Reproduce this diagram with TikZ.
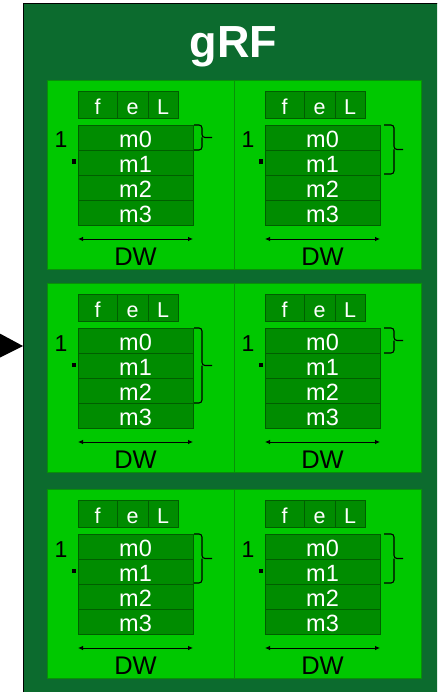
\documentclass[tikz,border=0pt]{standalone}
\usepackage{fontspec}
\setmainfont{Liberation Sans}
\usetikzlibrary{arrows.meta}
\definecolor{outerg}{HTML}{0C6B2E}
\definecolor{panelg}{HTML}{00C800}
\definecolor{cellg}{HTML}{008C00}
\definecolor{celll}{HTML}{005E00}
\definecolor{panell}{HTML}{089008}
\tikzset{
  panelbox/.style={fill=panelg, draw=panell, line width=0.9pt},
  cellbox/.style={fill=cellg, draw=celll, line width=0.8pt},
  celltext/.style={text=white, anchor=base, inner sep=0pt, font=\fontsize{23.5}{25}\selectfont},
  headtext/.style={text=white, anchor=base, inner sep=0pt, font=\fontsize{21.5}{23}\selectfont},
  blacktext/.style={text=black, anchor=base, inner sep=0pt, font=\fontsize{23}{25}\selectfont},
  bracel/.style={draw=black, line width=1.1pt, rounded corners=3pt},
  dwarrow/.style={{Latex[length=5pt,width=4.5pt]}-{Latex[length=5pt,width=4.5pt]}, line width=0.8pt}
}
% #1 x, #2 y, #3 brace bottom (rel), #4 brace x0, #5 brace vertical x, #6 tick x, #7 name
\newcommand\regpanel[7]{%
\begin{scope}[shift={(#1,#2)}]
  \path[panelbox] (0,0) rectangle (187,189);
  \node[cellbox, minimum width=39pt, minimum height=27pt, inner sep=0pt, anchor=north west] (#7f) at (31,11) {};
  \node[cellbox, minimum width=31pt, minimum height=27pt, inner sep=0pt, anchor=north west] (#7e) at (70,11) {};
  \node[cellbox, minimum width=30pt, minimum height=27pt, inner sep=0pt, anchor=north west] (#7L) at (101,11) {};
  \node[headtext] at (50.5,34.5) {f};
  \node[headtext] at (85.5,34.5) {e};
  \node[headtext] at (116,34.5) {L};
  \foreach \i in {0,1,2,3}{
    \node[cellbox, minimum width=115pt, minimum height=25pt, inner sep=0pt, anchor=north west] (#7m\i) at (31,45+25*\i) {};
    \node[celltext] at (88.5,67.8+25*\i) {m\i};
  }
  \node[blacktext] (#7one) at (14,68) {1};
  \fill[black] (24.5,79.5) rectangle (29,84);
  \draw[dwarrow] (31,159) -- (146,159);
  \node[blacktext, font=\fontsize{25.5}{26}\selectfont] (#7dw) at (88.5,185.5) {DW};
  \draw[bracel] (#4,45) -- (#5,45) -- (#5,{(45+#3)/2}) -- (#6,{(45+#3)/2});
  \draw[bracel] (#5,{(45+#3)/2}) -- (#5,#3) -- (#4,#3);
\end{scope}}
\begin{document}
\begin{tikzpicture}[x=1pt,y=-1pt]
  \useasboundingbox (0,0) rectangle (437,692);
  \clip (0,0) rectangle (437,692);
  \path[fill=outerg, draw=black, line width=1.5pt] (23.5,3.5) rectangle (470,720);
  \node[text=white, anchor=base, inner sep=0pt, font=\fontsize{45}{46}\bfseries\selectfont] (title) at (233.5,58) {gRF};
  \fill[black] (-3,332) -- (23,346) -- (-3,359) -- cycle;
  \regpanel{47}{80}{70}{147}{155}{165}{a}
  \regpanel{234}{80}{94}{150}{160}{169}{b}
  \regpanel{47}{283}{120}{147}{155}{165}{c}
  \regpanel{234}{283}{70}{150}{160}{169}{d}
  \regpanel{47}{489}{94}{147}{155}{165}{e}
  \regpanel{234}{489}{94}{150}{160}{169}{f}
\end{tikzpicture}
\end{document}
